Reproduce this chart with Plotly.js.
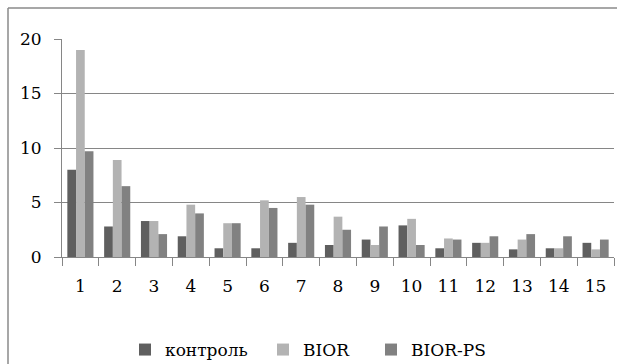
<!DOCTYPE html>
<html>
<head>
<meta charset="utf-8">
<script src="https://cdn.plot.ly/plotly-3.0.1.min.js"></script>
<style>html,body{margin:0;padding:0;background:#fff;}#chart{width:617px;height:364px;}</style>
</head>
<body>
<div id="chart"></div>
<script>
var categories = ["1","2","3","4","5","6","7","8","9","10","11","12","13","14","15"];
var seriesNames = ["контроль", "BIOR", "BIOR-PS"];
var kontrol = [8.0, 2.8, 3.3, 1.9, 0.8, 0.8, 1.3, 1.1, 1.6, 2.9, 0.8, 1.3, 0.7, 0.8, 1.3];
var bior    = [19.0, 8.9, 3.3, 4.8, 3.1, 5.2, 5.5, 3.7, 1.1, 3.5, 1.7, 1.3, 1.6, 0.8, 0.7];
var biorPs  = [9.7, 6.5, 2.1, 4.0, 3.1, 4.5, 4.8, 2.5, 2.8, 1.1, 1.6, 1.9, 2.1, 1.9, 1.6];
var yTicks = [0, 5, 10, 15, 20];

var colors = ["#5f5f5f", "#b3b3b3", "#818181"];
var legendWidths = [93, 63, 80];
var values = [kontrol, bior, biorPs];
var fam = "DejaVu Serif";

var W = 617, H = 364;
var mL = 62, mR = 3, mT = 39, mB = 107;
var pw = W - mL - mR, ph = H - mT - mB;

var traces = seriesNames.map(function(n, i){
  return {type: "bar", name: n, x: categories, y: values[i],
          marker: {color: colors[i]}, hoverinfo: "none", legendwidth: legendWidths[i]};
});

var layout = {
  width: W, height: H,
  margin: {l: mL, r: mR, t: mT, b: mB, pad: 0, autoexpand: false},
  paper_bgcolor: "#ffffff", plot_bgcolor: "#ffffff",
  barmode: "group", bargap: 0.29, bargroupgap: 0,
  font: {family: fam, size: 17, color: "#000000"},
  showlegend: true,
  legend: {orientation: "h", x: (125 - mL) / pw, xanchor: "left",
           y: (mT + ph - 350) / ph, yanchor: "middle",
           font: {family: fam, size: 17, color: "#000000"}},
  xaxis: {type: "category", showgrid: false, showline: true, linecolor: "#868686", linewidth: 1,
          ticks: "outside", tickson: "boundaries", ticklen: 8, tickcolor: "#868686", tickwidth: 1,
          ticklabelstandoff: 14, zeroline: false, fixedrange: true},
  yaxis: {range: [0, 20], tickvals: yTicks,
          showgrid: true, gridcolor: "#868686", gridwidth: 1,
          showline: true, linecolor: "#868686", linewidth: 1,
          ticks: "outside", ticklen: 7, tickcolor: "#868686", tickwidth: 1,
          ticklabelstandoff: 9, zeroline: false, fixedrange: true},
  shapes: [{type: "line", xref: "paper", yref: "paper",
            x0: (8 - mL) / pw, x1: (8 - mL) / pw, y0: (mT + ph - H) / ph, y1: (mT + ph - 8) / ph,
            line: {color: "#8a8a8a", width: 1.5}},
           {type: "line", xref: "paper", yref: "paper",
            x0: (8 - mL) / pw, x1: (W - mL) / pw, y0: (mT + ph - 8) / ph, y1: (mT + ph - 8) / ph,
            line: {color: "#8a8a8a", width: 1.5}}]
};

Plotly.newPlot("chart", traces, layout, {displayModeBar: false});
</script>
</body>
</html>
